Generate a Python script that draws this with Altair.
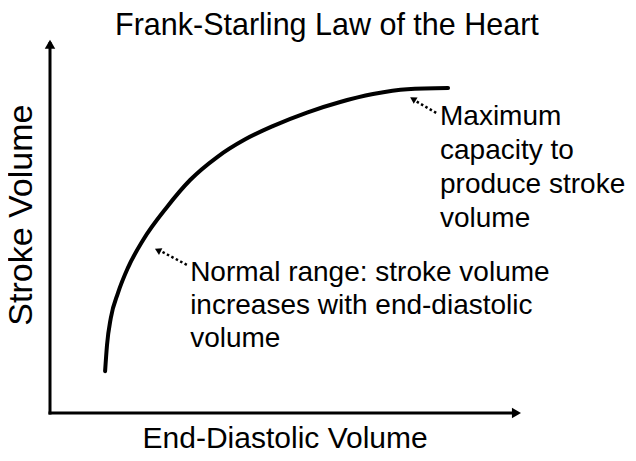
import altair as alt
import pandas as pd

# Curve (conceptual units: 0..100 along each axis arrow)
edv = [11.6, 12.0, 12.8, 14.3, 16.4, 19.6, 24.6, 29.5, 35.2, 41.1, 46.9, 54.1, 61.1, 68.0, 75.2, 83.8]
sv = [11.1, 18.0, 25.2, 31.8, 38.5, 45.9, 54.6, 61.8, 67.9, 72.6, 76.1, 79.7, 82.5, 84.6, 85.9, 86.2]

title_text = "Frank-Starling Law of the Heart"
x_title = "End-Diastolic Volume"
y_title = "Stroke Volume"

max_lines = ["Maximum", "capacity to", "produce stroke", "volume"]
max_x = [82.1, 82.1, 82.1, 82.1]
max_y = [76.4, 67.4, 58.4, 49.3]

norm_lines = ["Normal range: stroke volume", "increases with end-diastolic", "volume"]
norm_x = [29.5, 29.5, 29.5]
norm_y = [35.0, 26.3, 17.5]

# dotted pointer arrows: tail -> tip
arrow_x0 = [81.3, 28.8]
arrow_y0 = [79.6, 39.3]
arrow_x1 = [76.9, 23.4]
arrow_y1 = [82.8, 42.9]
arrow_angle = [301, 297]
arrow_tip_x = [76.4, 22.7]
arrow_tip_y = [83.3, 43.2]

FONT = "Liberation Sans"
XD = [-8.842, 121.68]
YD = [-10.61, 107.43]

xs = alt.Scale(domain=XD, nice=False, zero=False)
ys = alt.Scale(domain=YD, nice=False, zero=False)


def X(f):
    return alt.X(f, type="quantitative", scale=xs, axis=None)


def Y(f):
    return alt.Y(f, type="quantitative", scale=ys, axis=None)


curve_df = pd.DataFrame({"edv": edv, "sv": sv})
curve = alt.Chart(curve_df).mark_line(color="black", strokeWidth=4, interpolate="monotone",
                                      strokeCap="round").encode(x=X("edv"), y=Y("sv"), order="edv:Q")

axes_df = pd.DataFrame({"x": [0, 0], "y": [0, 0], "x2": [0, 98], "y2": [98, 0]})
axes = alt.Chart(axes_df).mark_rule(color="black", strokeWidth=3, strokeCap="square").encode(
    x=X("x"), y=Y("y"), x2="x2:Q", y2="y2:Q")

heads_df = pd.DataFrame({"x": [0, 98.2], "y": [97.8, 0], "angle": [0, 90]})
heads = alt.Chart(heads_df).mark_point(shape="triangle-up", filled=True, color="black",
                                       size=110, opacity=1).encode(
    x=X("x"), y=Y("y"), angle=alt.Angle("angle:Q", scale=None))

ptr_df = pd.DataFrame({"x": arrow_x0, "y": arrow_y0, "x2": arrow_x1, "y2": arrow_y1})
ptr = alt.Chart(ptr_df).mark_rule(color="black", strokeWidth=2.5, strokeDash=[2.5, 2.5]).encode(
    x=X("x"), y=Y("y"), x2="x2:Q", y2="y2:Q")

ptr_head_df = pd.DataFrame({"x": arrow_tip_x, "y": arrow_tip_y, "angle": arrow_angle})
ptr_head = alt.Chart(ptr_head_df).mark_point(shape="triangle-up", filled=True, color="black",
                                             size=55, opacity=1).encode(
    x=X("x"), y=Y("y"), angle=alt.Angle("angle:Q", scale=None))

title_df = pd.DataFrame({"t": [title_text], "x": [58.3], "y": [100.3]})
title = alt.Chart(title_df).mark_text(font=FONT, fontSize=30.5, color="black", align="center",
                                      baseline="alphabetic").encode(x=X("x"), y=Y("y"), text="t:N")

xt_df = pd.DataFrame({"t": [x_title], "x": [49.5], "y": [-9.3]})
xt = alt.Chart(xt_df).mark_text(font=FONT, fontSize=30, color="black", align="center",
                                baseline="alphabetic").encode(x=X("x"), y=Y("y"), text="t:N")

yt_df = pd.DataFrame({"t": [y_title], "x": [-5.9], "y": [52.5]})
yt = alt.Chart(yt_df).mark_text(font=FONT, fontSize=34, color="black", align="center",
                                baseline="middle", angle=270).encode(x=X("x"), y=Y("y"), text="t:N")

ann_df = pd.DataFrame({"t": max_lines + norm_lines, "x": max_x + norm_x, "y": max_y + norm_y})
ann = alt.Chart(ann_df).mark_text(font=FONT, fontSize=28, color="black", align="left",
                                  baseline="alphabetic").encode(x=X("x"), y=Y("y"), text="t:N")

chart = alt.layer(axes, heads, curve, ptr, ptr_head, title, xt, yt, ann).properties(
    width=620, height=445, padding=0, autosize=alt.AutoSizeParams(type="none"),
    background="white"
).configure_view(stroke=None)

chart.save("out.html", embed_options={"renderer": "svg", "actions": False})
